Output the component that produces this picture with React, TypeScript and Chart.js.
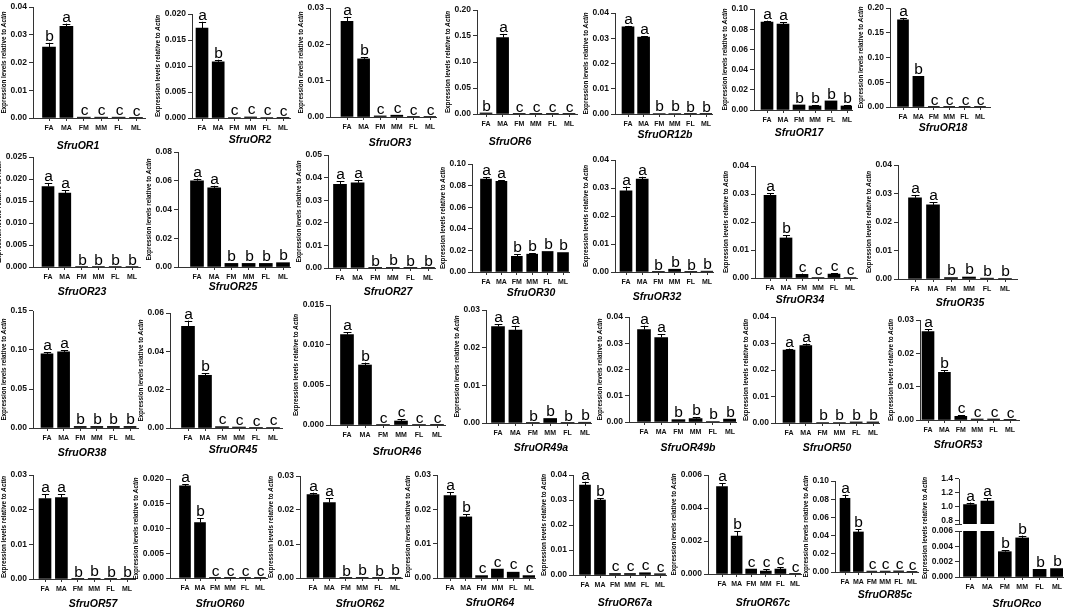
import { useEffect, useRef } from 'react';
import { Chart, registerables } from 'chart.js';

Chart.register(...registerables);

// ---- data ----
const groups = ['FA', 'MA', 'FM', 'MM', 'FL', 'ML'];

const genes = [
  'SfruOR1', 'SfruOR2', 'SfruOR3', 'SfruOR6', 'SfruOR12b', 'SfruOR17', 'SfruOR18',
  'SfruOR23', 'SfruOR25', 'SfruOR27', 'SfruOR30', 'SfruOR32', 'SfruOR34', 'SfruOR35',
  'SfruOR38', 'SfruOR45', 'SfruOR46', 'SfruOR49a', 'SfruOR49b', 'SfruOR50', 'SfruOR53',
  'SfruOR57', 'SfruOR60', 'SfruOR62', 'SfruOR64', 'SfruOR67a', 'SfruOR67c', 'SfruOR85c',
];

const yMax = [
  0.04, 0.02, 0.03, 0.2, 0.04, 0.1, 0.2,
  0.025, 0.08, 0.05, 0.1, 0.04, 0.04, 0.04,
  0.15, 0.06, 0.015, 0.03, 0.04, 0.04, 0.03,
  0.03, 0.02, 0.03, 0.03, 0.04, 0.006, 0.1,
];

const yStep = [
  0.01, 0.005, 0.01, 0.05, 0.01, 0.02, 0.05,
  0.005, 0.02, 0.01, 0.02, 0.01, 0.01, 0.01,
  0.05, 0.02, 0.005, 0.01, 0.01, 0.01, 0.01,
  0.01, 0.005, 0.01, 0.01, 0.01, 0.002, 0.02,
];

// mean expression, order FA MA FM MM FL ML
const means = [
  [0.0256, 0.033, 0.0003, 0.0003, 0.0003, 0.0001], // OR1
  [0.0173, 0.0108, 0.0001, 0.0002, 0.0001, 0.00005], // OR2
  [0.0263, 0.016, 0.0003, 0.0005, 0.0001, 0.0001], // OR3
  [0.002, 0.147, 0.0005, 0.0003, 0.0003, 0.0002], // OR6
  [0.0345, 0.0305, 0.0002, 0.0002, 0.0001, 0.0001], // OR12b
  [0.087, 0.085, 0.005, 0.004, 0.009, 0.004], // OR17
  [0.176, 0.062, 0.0005, 0.0003, 0.0003, 0.0002], // OR18
  [0.0183, 0.0168, 0.0001, 0.0001, 0.0001, 0.0001], // OR23
  [0.06, 0.055, 0.0025, 0.0025, 0.0025, 0.003], // OR25
  [0.037, 0.0377, 0.0001, 0.0003, 0.0001, 0.0001], // OR27
  [0.086, 0.084, 0.0145, 0.0165, 0.019, 0.018], // OR30
  [0.029, 0.0332, 0.0001, 0.001, 0.0001, 0.0003], // OR32
  [0.0295, 0.0143, 0.0013, 0.0002, 0.0014, 0.0002], // OR34
  [0.0285, 0.026, 0.0005, 0.0007, 0.0003, 0.0002], // OR35
  [0.095, 0.0975, 0.002, 0.002, 0.002, 0.002], // OR38
  [0.053, 0.0275, 0.0007, 0.0005, 0.0002, 0.0003], // OR45
  [0.0113, 0.0075, 0.00005, 0.0005, 0.00005, 0.00003], // OR46
  [0.0256, 0.0247, 0.0001, 0.0012, 0.0001, 0.0002], // OR49a
  [0.0352, 0.0322, 0.0009, 0.0013, 0.0002, 0.0011], // OR49b
  [0.0275, 0.0292, 0.0002, 0.0002, 0.0004, 0.0004], // OR50
  [0.0265, 0.0143, 0.0011, 0.0003, 0.0003, 0.0001], // OR53
  [0.0232, 0.0235, 0.0001, 0.0002, 0.0001, 0.00005], // OR57
  [0.0186, 0.0112, 0.00005, 0.00005, 0.00005, 0.00003], // OR60
  [0.0245, 0.0222, 0.0001, 0.0002, 0.0001, 0.0002], // OR62
  [0.024, 0.0178, 0.0007, 0.0026, 0.0017, 0.0007], // OR64
  [0.036, 0.03, 0.0006, 0.0006, 0.0009, 0.0005], // OR67a
  [0.0053, 0.0023, 0.0003, 0.00018, 0.0003, 0.00002], // OR67c
  [0.081, 0.044, 0.001, 0.001, 0.0012, 0.0002], // OR85c
];

const errors = [
  [0.0015, 0.001, 0.0001, 0.0001, 0.0001, 0], // OR1
  [0.0012, 0.0004, 0, 0.0001, 0, 0], // OR2
  [0.0013, 0.0005, 0.0001, 0.0001, 0, 0], // OR3
  [0.0005, 0.007, 0, 0, 0, 0], // OR6
  [0.0004, 0.0004, 0.00005, 0.00005, 0, 0], // OR12b
  [0.0015, 0.002, 0.0003, 0.001, 0.0003, 0.0008], // OR17
  [0.004, 0.001, 0, 0, 0, 0], // OR18
  [0.0008, 0.0006, 0, 0, 0, 0], // OR23
  [0.0015, 0.0015, 0.0002, 0.0003, 0.0002, 0.0003], // OR25
  [0.0015, 0.0013, 0, 0.0001, 0, 0], // OR27
  [0.002, 0.001, 0.002, 0.001, 0.0005, 0.0005], // OR30
  [0.0015, 0.0008, 0, 0.0002, 0, 0.0001], // OR32
  [0.0008, 0.001, 0.0003, 0, 0.0003, 0], // OR34
  [0.001, 0.001, 0.0001, 0.0002, 0, 0], // OR35
  [0.002, 0.002, 0.0003, 0.0003, 0.0003, 0.0003], // OR38
  [0.003, 0.0012, 0.0001, 0.0001, 0, 0], // OR45
  [0.0003, 0.0003, 0, 0.0002, 0, 0], // OR46
  [0.0006, 0.0011, 0, 0.0002, 0, 0], // OR49a
  [0.0015, 0.0012, 0.0003, 0.0006, 0, 0.0002], // OR49b
  [0.0006, 0.0008, 0, 0, 0.0001, 0.0001], // OR50
  [0.0008, 0.0007, 0.0004, 0, 0, 0], // OR53
  [0.0012, 0.0009, 0, 0.0001, 0, 0], // OR57
  [0.0003, 0.0009, 0, 0, 0, 0], // OR60
  [0.0006, 0.0012, 0, 0.0001, 0, 0], // OR62
  [0.001, 0.0008, 0.0002, 0.0001, 0.0002, 0.0002], // OR64
  [0.0013, 0.0007, 0.0001, 0.0001, 0.0002, 0.0001], // OR67a
  [0.0002, 0.0003, 0.00002, 0.0001, 0.0001, 0], // OR67c
  [0.004, 0.003, 0.0002, 0.0002, 0.0003, 0], // OR85c
];

const letters = [
  'bacccc', 'abcccc', 'abcccc', 'bacccc', 'aabbbb', 'aabbbb', 'abcccc',
  'aabbbb', 'aabbbb', 'aabbbb', 'aabbbb', 'aabbbb', 'abcccc', 'aabbbb',
  'aabbbb', 'abcccc', 'abcccc', 'aabbbb', 'aabbbb', 'aabbbb', 'abcccc',
  'aabbbb', 'abcccc', 'aabbbb', 'abcccc', 'abcccc', 'abcccc', 'abcccc',
];

// SfruORco, drawn on a broken y axis
const orcoMeans = [1.03, 1.08, 0.0033, 0.0051, 0.001, 0.0011];
const orcoErrors = [0.03, 0.04, 0.0002, 0.0003, 0.0001, 0.0001];
const orcoLetters = 'aabbbb';
const orcoUpper = { min: 0.75, first: 0.8, max: 1.4, step: 0.2 };
const orcoLower = { max: 0.006, step: 0.002 };

// ---- layout (page px): axis x, FA x, ML x, axis end, top tick y, zero y, title x, title y ----
const boxes = [
  [33, 49, 136, 145, 7, 118, 78, 146],
  [192, 202, 283, 290, 14, 118, 250, 140],
  [330, 347, 430, 436, 8, 117, 390, 143],
  [477, 486, 569, 577, 10, 114, 510, 142],
  [615, 628, 706, 712, 13, 114, 665, 135],
  [754, 767, 847, 852, 9, 110, 799, 133],
  [890, 903, 980, 990, 8, 107, 943, 128],
  [33, 48, 132, 140, 157, 267, 82, 292],
  [178, 197, 283, 290, 152, 267, 233, 287],
  [328, 340, 428, 435, 155, 268, 388, 292],
  [472, 486, 563, 569, 164, 272, 531, 293],
  [615, 626, 707, 713, 160, 272, 657, 297],
  [755, 770, 850, 857, 166, 278, 800, 300],
  [898, 915, 1005, 1017, 165, 279, 960, 303],
  [33, 47, 130, 138, 311, 428, 82, 453],
  [170, 188, 273, 282, 313, 428, 233, 450],
  [330, 347, 437, 445, 305, 425, 397, 452],
  [486, 498, 585, 591, 310, 423, 541, 448],
  [629, 644, 730, 736, 317, 422, 688, 448],
  [775, 789, 873, 879, 317, 423, 827, 448],
  [920, 928, 1010, 1019, 320, 420, 958, 445],
  [33, 45, 127, 135, 475, 579, 93, 604],
  [170, 185, 260, 267, 479, 578, 220, 604],
  [300, 313, 395, 402, 476, 578, 360, 604],
  [437, 450, 529, 535, 475, 578, 490, 603],
  [573, 585, 660, 666, 475, 575, 625, 603],
  [708, 722, 795, 801, 475, 574, 763, 603],
  [835, 845, 912, 918, 481, 572, 885, 595],
];
const orcoBox = { axis: 959, fa: 970, ml: 1057, end: 1063, upperTop: 479, upperBottom: 524, lowerTop: 531, zero: 577, titleX: 1017, titleY: 604, labelY: 528 };

const FONT = "'Liberation Sans', Arial, Helvetica, sans-serif";
const INK = '#000000';
const AXIS = '#333333';
const Y_AXIS_W = 45;

interface Panel {
  id: string;
  gene: string | null;
  values: (number | null)[];
  errs: number[];
  marks: string;
  min: number;
  max: number;
  first: number;
  step: number;
  axis: number;
  fa: number;
  ml: number;
  end: number;
  top: number;
  zero: number;
  titleX: number;
  titleY: number;
  canvasTop: number;
  canvasBottom: number;
  showX: boolean;
  yTitle: boolean;
  yTitleY?: number;
  breakTop?: boolean;
  breakBottom?: boolean;
}

const decimals = (step: number) => {
  const s = String(step);
  return s.includes('.') ? s.split('.')[1].length : 0;
};

function decorPlugin(p: Panel, left: number, top: number) {
  return {
    id: 'decor-' + p.id,
    afterDatasetsDraw(chart: Chart) {
      const { ctx, chartArea } = chart;
      const xs = chart.scales.x;
      const ys = chart.scales.y;
      ctx.save();
      ctx.strokeStyle = INK;
      ctx.fillStyle = INK;
      ctx.lineWidth = 1;

      // error bars and significance letters
      ctx.font = `15.5px ${FONT}`;
      ctx.textAlign = 'center';
      ctx.textBaseline = 'alphabetic';
      p.values.forEach((v, i) => {
        if (v == null || v > ys.max) return;
        const x = Math.round(xs.getPixelForValue(i)) + 0.5;
        const e = p.errs[i];
        const y0 = ys.getPixelForValue(v);
        const y1 = ys.getPixelForValue(v + e);
        const cap = (p.ml - p.fa) / 5 * 0.22;
        if (e > 0 && y0 - y1 >= 0.8) {
          ctx.beginPath();
          ctx.moveTo(x, y0);
          ctx.lineTo(x, y1);
          ctx.moveTo(x - cap, Math.round(y1) + 0.5);
          ctx.lineTo(x + cap, Math.round(y1) + 0.5);
          ctx.stroke();
        }
        ctx.fillText(p.marks[i], x, Math.min(y0, y1) - 2);
      });

      // axis break notches
      ctx.strokeStyle = AXIS;
      if (p.breakBottom) {
        ctx.beginPath();
        ctx.moveTo(chartArea.left - 4, chartArea.bottom + 0.5);
        ctx.lineTo(chartArea.left + 3, chartArea.bottom + 0.5);
        ctx.stroke();
      }
      if (p.breakTop) {
        ctx.beginPath();
        ctx.moveTo(chartArea.left - 4, chartArea.top + 0.5);
        ctx.lineTo(chartArea.left + 3, chartArea.top + 0.5);
        ctx.stroke();
      }

      // rotated y-axis title
      if (p.yTitle) {
        ctx.font = `bold 8.5px ${FONT}`;
        const dec = decimals(p.step);
        let maxW = 0;
        ys.ticks.forEach((t) => {
          maxW = Math.max(maxW, ctx.measureText(Number(t.value).toFixed(dec)).width);
        });
        const tx = chartArea.left - 4 - 2 - maxW - 6;
        const ty = p.yTitleY != null ? p.yTitleY - top : (chartArea.top + chartArea.bottom) / 2;
        const part1 = 'Expression levels relative to ';
        const part2 = 'Actin';
        ctx.translate(tx, ty);
        ctx.rotate(-Math.PI / 2);
        ctx.textAlign = 'left';
        ctx.textBaseline = 'middle';
        ctx.font = `bold 6.3px ${FONT}`;
        const w1 = ctx.measureText(part1).width;
        ctx.font = `italic bold 6.3px ${FONT}`;
        const w2 = ctx.measureText(part2).width;
        const start = -(w1 + w2) / 2;
        ctx.font = `bold 6.3px ${FONT}`;
        ctx.fillText(part1, start, 0);
        ctx.font = `italic bold 6.3px ${FONT}`;
        ctx.fillText(part2, start + w1, 0);
        ctx.setTransform(1, 0, 0, 1, 0, 0);
        ctx.scale(chart.currentDevicePixelRatio, chart.currentDevicePixelRatio);
      }

      // gene name
      if (p.gene) {
        ctx.font = `italic bold 10.5px ${FONT}`;
        ctx.textAlign = 'center';
        ctx.textBaseline = 'middle';
        ctx.fillStyle = INK;
        ctx.fillText(p.gene, p.titleX - left, p.titleY - top);
      }
      ctx.restore();
    },
  };
}

function BarPanel({ p }: { p: Panel }) {
  const canvasRef = useRef<HTMLCanvasElement>(null);
  const left = p.axis - Y_AXIS_W;
  const top = p.canvasTop;
  const width = p.end - p.axis + Y_AXIS_W + 4;
  const height = p.canvasBottom - p.canvasTop;

  useEffect(() => {
    if (!canvasRef.current) return;
    const ctx = canvasRef.current.getContext('2d');
    if (!ctx) return;

    const spacing = (p.ml - p.fa) / 5;
    const xMin = -(p.fa - p.axis) / spacing;
    const xMax = 5 + (p.end - p.ml) / spacing;
    const padTop = p.top - top;
    const xHeight = height - padTop - (p.zero - p.top);
    const dec = decimals(p.step);

    const chart = new Chart(ctx, {
      type: 'bar',
      data: {
        datasets: [
          {
            data: p.values.map((v, i) => ({ x: i, y: v })) as any,
            backgroundColor: INK,
            borderWidth: 0,
            barThickness: Math.round(spacing * 0.74),
            clip: 0 as any,
          },
        ],
      },
      options: {
        animation: false,
        responsive: false,
        events: [],
        layout: { padding: { top: padTop, right: 4, left: 0, bottom: 0 } },
        plugins: { legend: { display: false }, tooltip: { enabled: false } },
        scales: {
          x: {
            type: 'linear',
            min: xMin,
            max: xMax,
            offset: false,
            afterBuildTicks: (s: any) => {
              s.ticks = groups.map((_, i) => ({ value: i }));
            },
            afterFit: (s: any) => {
              s.height = xHeight;
            },
            grid: { display: p.showX, offset: false, drawOnChartArea: false, tickLength: 3, color: AXIS, lineWidth: 1 },
            border: { display: p.showX, color: AXIS, width: 1 },
            ticks: {
              display: p.showX,
              autoSkip: false,
              maxRotation: 0,
              minRotation: 0,
              padding: 3,
              color: '#111111',
              font: { family: FONT, size: 7, weight: 'bold' },
              callback: (v: any) => groups[Math.round(Number(v))] ?? '',
            },
          },
          y: {
            type: 'linear',
            min: p.min,
            max: p.max,
            afterBuildTicks: (s: any) => {
              const n = Math.round((p.max - p.first) / p.step);
              const out: { value: number }[] = [];
              for (let k = 0; k <= n; k++) out.push({ value: p.first + k * p.step });
              s.ticks = out;
            },
            afterFit: (s: any) => {
              s.width = Y_AXIS_W;
            },
            grid: { drawOnChartArea: false, tickLength: 4, color: AXIS, lineWidth: 1 },
            border: { color: AXIS, width: 1 },
            ticks: {
              padding: 2,
              color: '#111111',
              font: { family: FONT, size: 8.5, weight: 'bold' },
              callback: (v: any) => Number(v).toFixed(dec),
            },
          },
        },
      },
      plugins: [decorPlugin(p, left, top)],
    });

    return () => {
      chart.destroy();
    };
  }, [p]);

  return (
    <canvas
      ref={canvasRef}
      width={width}
      height={height}
      style={{ position: 'absolute', left, top, width, height }}
    />
  );
}

const panels: Panel[] = genes.map((gene, i) => {
  const [axis, fa, ml, end, top, zero, titleX, titleY] = boxes[i];
  return {
    id: gene,
    gene,
    values: means[i],
    errs: errors[i],
    marks: letters[i],
    min: 0,
    max: yMax[i],
    first: 0,
    step: yStep[i],
    axis, fa, ml, end, top, zero, titleX, titleY,
    canvasTop: top - 18,
    canvasBottom: titleY + 9,
    showX: true,
    yTitle: true,
  };
});

// ORco upper segment (FA, MA only)
panels.push({
  id: 'orco-upper',
  gene: null,
  values: orcoMeans.map((v, i) => (i < 2 ? v : null)),
  errs: orcoErrors,
  marks: orcoLetters,
  min: orcoUpper.min,
  max: orcoUpper.max,
  first: orcoUpper.first,
  step: orcoUpper.step,
  axis: orcoBox.axis,
  fa: orcoBox.fa,
  ml: orcoBox.ml,
  end: orcoBox.end,
  top: orcoBox.upperTop,
  zero: orcoBox.upperBottom,
  titleX: orcoBox.titleX,
  titleY: orcoBox.titleY,
  canvasTop: orcoBox.upperTop - 18,
  canvasBottom: orcoBox.upperBottom + 10,
  showX: false,
  yTitle: false,
  breakBottom: true,
});

// ORco lower segment
panels.push({
  id: 'orco-lower',
  gene: 'SfruORco',
  values: orcoMeans,
  errs: orcoErrors,
  marks: orcoLetters,
  min: 0,
  max: orcoLower.max,
  first: 0,
  step: orcoLower.step,
  axis: orcoBox.axis,
  fa: orcoBox.fa,
  ml: orcoBox.ml,
  end: orcoBox.end,
  top: orcoBox.lowerTop,
  zero: orcoBox.zero,
  titleX: orcoBox.titleX,
  titleY: orcoBox.titleY,
  canvasTop: orcoBox.upperTop - 18,
  canvasBottom: orcoBox.titleY + 9,
  showX: true,
  yTitle: true,
  yTitleY: orcoBox.labelY,
  breakTop: true,
});

export default function App() {
  return (
    <div
      style={{
        position: 'absolute',
        left: 0,
        top: 0,
        width: 1072,
        height: 610,
        overflow: 'hidden',
        background: '#ffffff',
      }}
    >
      {panels.map((p) => (
        <BarPanel key={p.id} p={p} />
      ))}
    </div>
  );
}
